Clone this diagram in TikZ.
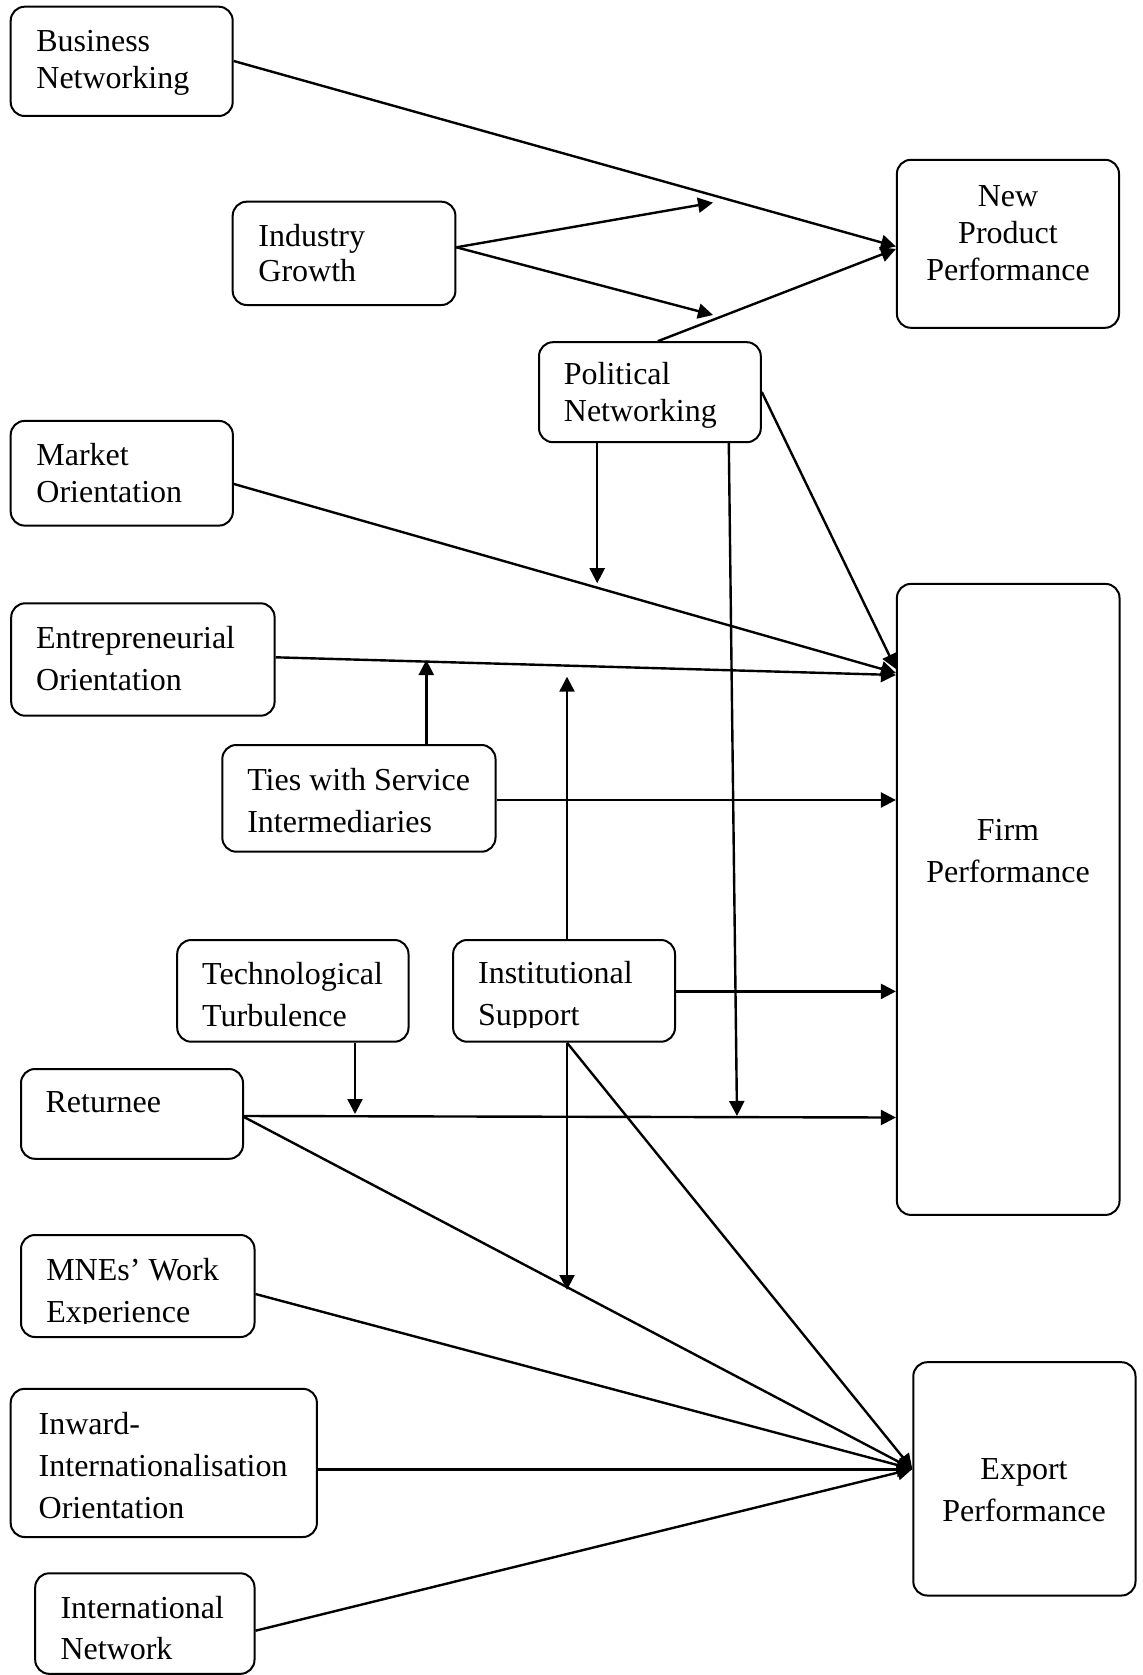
\documentclass[tikz,border=0pt]{standalone}
\usepackage{fontspec}
\setmainfont{Liberation Serif}
\usetikzlibrary{arrows.meta,fit,calc}
\newcommand\Lt[1]{\begin{tabular}[t]{@{}l@{}}#1\end{tabular}}
\newcommand\Ct[1]{\begin{tabular}[t]{@{}c@{}}#1\end{tabular}}
\begin{document}
\begin{tikzpicture}[x=0.5pt,y=-0.5pt,
  box/.style={draw, rounded corners=7pt, line width=1pt, inner sep=0pt},
  lab/.style={inner sep=0pt, anchor=base west, font=\fontsize{16}{18.5}\selectfont},
  labw/.style={inner sep=0pt, anchor=base west, font=\fontsize{16}{21}\selectfont},
  labc/.style={inner sep=0pt, anchor=base, font=\fontsize{16}{18.5}\selectfont},
  labcw/.style={inner sep=0pt, anchor=base, font=\fontsize{16}{21.3}\selectfont},
  arr/.style={-{Triangle[length=7.5pt,width=7.5pt]}, line width=1.2pt},
  ln/.style={line width=1.2pt}]
\fill[white] (0,0) rectangle (1143,1675);
\useasboundingbox (0,0) rectangle (1143,1675);
% boxes
\node[box, fit={(10.7,6.7) (232.7,116)}] (bn) {};
\node[box, fit={(232.7,201.7) (455.4,305)}] (ig) {};
\node[box, fit={(896.9,159.8) (1119,327.8)}] (npp) {};
\node[box, fit={(539,342.2) (760.8,442.2)}] (pn) {};
\node[box, fit={(10.7,420.9) (232.9,525.6)}] (mo) {};
\node[box, fit={(11.2,603.3) (274.6,715.7)}] (eo) {};
\node[box, fit={(222.3,745) (495.5,851.7)}] (tsi) {};
\node[box, fit={(896.9,583.9) (1119.5,1214.9)}] (fp) {};
\node[box, fit={(177.2,940) (408.5,1041.7)}] (tt) {};
\node[box, fit={(453.1,940) (675,1041.7)}] (is) {};
\node[box, fit={(21,1069) (243,1158.8)}] (rt) {};
\node[box, fit={(21,1235) (254.5,1337)}] (mne) {};
\node[box, fit={(10.7,1388.8) (316.9,1537)}] (iio) {};
\node[box, fit={(35.2,1573.3) (254.5,1673.8)}] (inn) {};
\node[box, fit={(913.3,1362.2) (1135.5,1595.5)}] (ep) {};
% labels
\node[lab] (bn-t) at (36,51.7) {\Lt{Business\\Networking}};
\node[lab, font=\fontsize{16}{17.5}\selectfont] (ig-t) at (258,246.7) {\Lt{Industry\\Growth}};
\node[labc] (npp-t) at (1008,206.8) {\Ct{New\\Product\\Performance}};
\node[lab] (pn-t) at (563.5,384.3) {\Lt{Political\\Networking}};
\node[lab] (mo-t) at (36,465.5) {\Lt{Market\\Orientation}};
\node[labw] (eo-t) at (35.7,648.3) {\Lt{Entrepreneurial\\Orientation}};
\node[labw] (tsi-t) at (246.9,790) {\Lt{Ties with Service\\Intermediaries}};
\node[labcw] (fp-t) at (1008,840) {\Ct{Firm\\Performance}};
\node[labw] (tt-t) at (201.8,984) {\Lt{Technological\\Turbulence}};
\begin{scope}
\clip (455,942) rectangle (673,1027);
\node[labw] (is-t) at (477.7,983.3) {\Lt{Institutional\\Support}};
\end{scope}
\node[lab] (rt-t) at (45.2,1112.6) {Returnee};
\begin{scope}
\clip (23,1237) rectangle (252,1323);
\node[labw] (mne-t) at (45.9,1280) {\Lt{MNEs’ Work\\Experience}};
\end{scope}
\node[labw] (iio-t) at (38.3,1434.6) {\Lt{Inward-\\Internationalisation\\Orientation}};
\node[labw, font=\fontsize{16}{20.5}\selectfont] (inn-t) at (60.1,1618) {\Lt{International\\Network}};
\node[labcw] (ep-t) at (1024,1479.3) {\Ct{Export\\Performance}};
% free ends
\coordinate (igU) at (713,202.6);
\coordinate (igD) at (713,315);
\coordinate (pnD1) at (597.2,583.2);
\coordinate (pnD2) at (737,1116);
\coordinate (tsiU) at (426.3,660);
\coordinate (isU) at (567,676.7);
\coordinate (ttD) at (355,1114);
\coordinate (isD) at (567,1290);
% connectors
\draw[arr] (bn.east |- 0,61) -- (npp.west |- 0,246.5);
\draw[arr] (ig.east |- 0,247.3) -- (igU);
\draw[arr] (ig.east |- 0,247.3) -- (igD);
\draw[arr] (657.8,0 |- pn.north) -- (npp.west |- 0,249);
\draw[arr] (597.2,0 |- pn.south) -- (pnD1);
\draw[arr] (728.8,0 |- pn.south) -- (pnD2);
\draw[arr] (pn.east |- 0,392) -- (fp.west |- 0,669);
\draw[arr] (mo.east |- 0,484) -- (fp.west |- 0,673);
\draw[arr] (eo.east |- 0,657.3) -- (fp.west |- 0,675);
\draw[arr] (426.3,0 |- tsi.north) -- (tsiU);
\draw[arr] (567,0 |- is.north) -- (isU);
\draw[arr] (tsi.east |- 0,800) -- (fp.west |- 0,800);
\draw[arr] (is.east |- 0,991.4) -- (fp.west |- 0,991.4);
\draw[arr] (355,0 |- tt.south) -- (ttD);
\draw[arr] (rt.east |- 0,1116) -- (fp.west |- 0,1117.5);
\draw[arr] (rt.east |- 0,1117) -- (ep.west |- 0,1469);
\draw[arr] (567,0 |- is.south) -- (isD);
\draw[arr] (567,0 |- is.south) -- (ep.west |- 0,1469);
\draw[arr] (mne.east |- 0,1294) -- (ep.west |- 0,1469);
\draw[arr] (iio.east |- 0,1469.3) -- (ep.west |- 0,1469.3);
\draw[arr] (inn.east |- 0,1630.7) -- (ep.west |- 0,1469);
\end{tikzpicture}
\end{document}
